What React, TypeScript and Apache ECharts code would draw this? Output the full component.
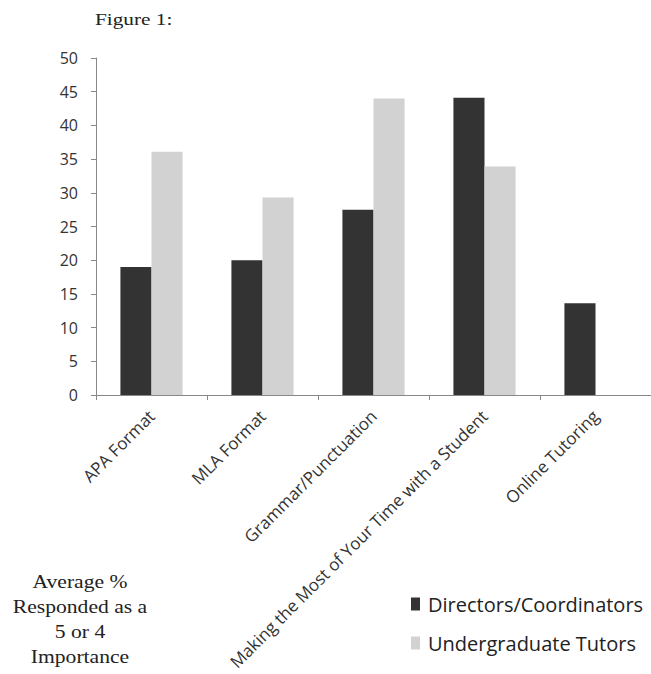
import React, { useEffect, useRef } from "react";
import * as echarts from "echarts";

const categories = [
  "APA Format",
  "MLA Format",
  "Grammar/Punctuation",
  "Making the Most of Your Time with a Student",
  "Online Tutoring",
];
const directors = [19.0, 20.0, 27.5, 44.1, 13.6];
const tutors: (number | null)[] = [36.1, 29.3, 44.0, 33.9, null];
const seriesNames = ["Directors/Coordinators", "Undergraduate Tutors"];
const yTicks = { min: 0, max: 50, interval: 5 };

export default function App() {
  const ref = useRef<HTMLDivElement>(null);
  useEffect(() => {
    document.body.style.margin = "0";
    const chart = echarts.init(ref.current!, null, { renderer: "svg" });
    const sans = "'Open Sans', 'Noto Sans', sans-serif";
    const serif = "'Liberation Serif', 'DejaVu Serif', serif";
    chart.setOption({
      animation: false,
      backgroundColor: "#ffffff",
      grid: { left: 96, right: 0, top: 58, bottom: 279, containLabel: false },
      legend: {
        orient: "vertical",
        left: 406,
        top: 589,
        itemWidth: 9,
        itemHeight: 13,
        itemGap: 19,
        icon: "rect",
        textStyle: { fontFamily: sans, fontSize: 20, color: "#222", padding: [0, 0, 0, 3] },
        data: seriesNames,
      },
      xAxis: {
        type: "category",
        data: categories,
        axisLine: { lineStyle: { color: "#888", width: 1 } },
        axisTick: { show: true, alignWithLabel: false, length: 5, lineStyle: { color: "#888" } },
        axisLabel: {
          rotate: 45,
          interval: 0,
          fontFamily: sans,
          fontSize: 17,
          color: "#333",
          margin: 18,
        },
      },
      yAxis: {
        type: "value",
        min: yTicks.min,
        max: yTicks.max,
        interval: yTicks.interval,
        axisLine: { show: true, lineStyle: { color: "#888", width: 1 } },
        axisTick: { show: true, length: 5, lineStyle: { color: "#888" } },
        splitLine: { show: false },
        axisLabel: { fontFamily: sans, fontSize: 16, color: "#333", margin: 18 },
      },
      series: [
        {
          name: seriesNames[0],
          type: "bar",
          data: directors,
          barGap: "0%",
          barCategoryGap: "44%",
          itemStyle: { color: "#333333" },
        },
        {
          name: seriesNames[1],
          type: "bar",
          data: tutors,
          barGap: "0%",
          barCategoryGap: "44%",
          itemStyle: { color: "#d2d2d2" },
        },
      ],
      graphic: [
        {
          type: "text",
          x: 95,
          y: 11,
          scaleX: 1.25,
          style: { text: "Figure 1:", fontFamily: serif, fontSize: 17, fill: "#222" },
        },
        {
          type: "text",
          x: 80,
          y: 569,
          scaleX: 1.2,
          style: {
            text: "Average %\nResponded as a\n5 or 4\nImportance",
            fontFamily: serif,
            fontSize: 18,
            lineHeight: 25,
            align: "center",
            fill: "#222",
          },
        },
      ],
    });
    return () => chart.dispose();
  }, []);
  return <div ref={ref} style={{ width: 651, height: 674, position: "absolute", left: 0, top: 0 }} />;
}
